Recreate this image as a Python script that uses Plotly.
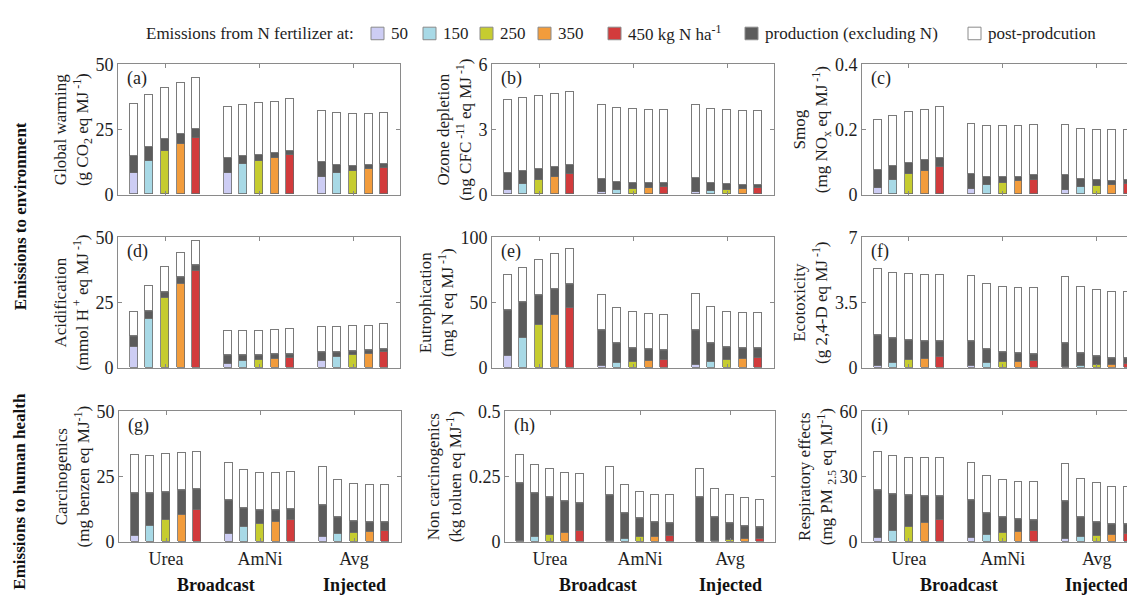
import plotly.graph_objects as go

# ---------------- data ----------------
groups = ["Urea", "AmNi", "Avg"]
rate_names = ["50", "150", "250", "350", "450 kg N ha<sup>-1</sup>"]
rate_colors = ["#cdcdf4", "#a8d9e6", "#c6cc30", "#f29c3c", "#d23b3c"]
prod_color = "#5c5c5c"
prod_name = "production (excluding N)"
post_name = "post-prodcution"
legend_title = "Emissions from N fertilizer at:"
panel_letters = ["(a)", "(b)", "(c)", "(d)", "(e)", "(f)", "(g)", "(h)", "(i)"]
row_labels = ["Emissions to environment", "Emissions to human health"]
method_labels = ["Broadcast", "Injected"]

# order in each list: Urea 50..450, AmNi 50..450, Avg 50..450
gw_n    = [8.1, 12.9, 16.5, 19.2, 21.7, 8.4, 11.5, 13.0, 14.0, 15.1, 6.8, 8.4, 8.9, 9.6, 10.2]
gw_prod = [6.8, 5.3, 4.6, 4.0, 3.4, 5.5, 3.1, 2.3, 1.9, 1.6, 5.6, 2.9, 2.1, 1.6, 1.5]
gw_post = [19.6, 19.8, 19.7, 19.6, 19.6, 19.6, 19.6, 19.6, 19.6, 19.8, 19.6, 19.8, 19.8, 19.6, 19.7]

oz_n    = [0.19, 0.46, 0.65, 0.79, 0.94, 0.12, 0.19, 0.27, 0.31, 0.34, 0.10, 0.18, 0.21, 0.24, 0.28]
oz_prod = [0.79, 0.61, 0.53, 0.47, 0.40, 0.61, 0.38, 0.25, 0.21, 0.18, 0.66, 0.34, 0.25, 0.19, 0.17]
oz_post = [3.38, 3.38, 3.36, 3.37, 3.38, 3.39, 3.39, 3.39, 3.38, 3.38, 3.36, 3.39, 3.41, 3.41, 3.39]

sm_n    = [0.019, 0.043, 0.062, 0.072, 0.084, 0.017, 0.030, 0.035, 0.040, 0.045, 0.013, 0.022, 0.025, 0.028, 0.031]
sm_prod = [0.055, 0.044, 0.035, 0.033, 0.029, 0.045, 0.025, 0.019, 0.015, 0.014, 0.047, 0.026, 0.018, 0.014, 0.014]
sm_post = [0.155, 0.153, 0.155, 0.154, 0.154, 0.154, 0.155, 0.155, 0.154, 0.153, 0.154, 0.153, 0.156, 0.155, 0.154]

ac_n    = [8.1, 19.0, 26.9, 32.4, 37.3, 1.6, 2.9, 3.3, 3.7, 4.1, 2.9, 4.3, 5.0, 5.6, 6.2]
ac_prod = [3.9, 2.8, 2.1, 2.2, 1.8, 3.1, 1.7, 1.4, 1.4, 1.1, 3.1, 1.8, 1.3, 1.1, 1.0]
ac_post = [9.2, 9.5, 9.6, 9.3, 9.3, 9.3, 9.4, 9.4, 9.2, 9.4, 9.5, 9.5, 9.5, 9.3, 9.4]

eu_n    = [9.9, 23.2, 33.6, 40.7, 46.7, 2.0, 4.0, 4.9, 5.7, 6.2, 3.0, 5.2, 6.2, 6.9, 7.9]
eu_prod = [33.8, 26.7, 21.7, 19.1, 17.0, 26.4, 14.8, 10.4, 8.1, 7.4, 26.1, 13.8, 9.6, 7.7, 6.7]
eu_post = [27.2, 26.6, 27.2, 26.9, 26.9, 27.2, 27.1, 26.9, 27.2, 26.9, 27.2, 27.2, 26.9, 26.9, 26.9]

ec_n    = [0.12, 0.31, 0.43, 0.53, 0.60, 0.12, 0.28, 0.33, 0.34, 0.38, 0.07, 0.12, 0.17, 0.19, 0.22]
ec_prod = [1.62, 1.26, 1.05, 0.90, 0.81, 1.28, 0.69, 0.50, 0.42, 0.36, 1.24, 0.66, 0.45, 0.33, 0.28]
ec_post = [3.52, 3.52, 3.54, 3.55, 3.54, 3.53, 3.51, 3.51, 3.52, 3.52, 3.52, 3.53, 3.52, 3.55, 3.53]

ca_n    = [2.6, 6.3, 8.8, 10.6, 12.5, 3.3, 5.8, 7.0, 7.9, 8.8, 2.0, 3.1, 3.6, 4.1, 4.4]
ca_prod = [15.9, 12.1, 10.3, 9.2, 7.7, 12.6, 7.0, 5.0, 4.0, 3.5, 12.0, 6.2, 4.2, 3.2, 2.9]
ca_post = [14.5, 14.4, 14.4, 14.3, 14.2, 14.3, 14.5, 14.4, 14.3, 14.2, 14.4, 14.4, 14.3, 14.2, 14.2]

nc_n    = [0.005, 0.021, 0.028, 0.036, 0.043, 0.006, 0.015, 0.020, 0.022, 0.026, 0.002, 0.007, 0.011, 0.012, 0.015]
nc_prod = [0.221, 0.165, 0.141, 0.121, 0.105, 0.171, 0.095, 0.069, 0.053, 0.044, 0.167, 0.088, 0.058, 0.046, 0.039]
nc_post = [0.106, 0.108, 0.108, 0.107, 0.109, 0.107, 0.105, 0.102, 0.105, 0.107, 0.108, 0.107, 0.108, 0.107, 0.106]

re_n    = [2.1, 5.3, 7.1, 8.9, 10.2, 2.1, 3.4, 4.3, 4.6, 5.2, 1.6, 2.7, 3.0, 3.3, 3.7]
re_prod = [21.8, 16.6, 14.2, 12.0, 10.7, 16.9, 9.6, 6.8, 5.6, 4.9, 16.9, 8.7, 6.0, 4.7, 4.2]
re_post = [17.3, 17.2, 17.2, 17.3, 17.3, 17.1, 17.2, 17.2, 17.2, 17.2, 17.2, 17.2, 17.7, 17.2, 17.0]

y_titles = [
    "Global warming<br>(g CO<sub>2</sub> eq MJ<sup> -1</sup>)",
    "Ozone depletion<br>(ng CFC<sup> -11</sup> eq MJ<sup> -1</sup>)",
    "Smog<br>(mg NO<sub>x</sub> eq MJ<sup> -1</sup>)",
    "Acidification<br>(mmol H<sup> +</sup> eq MJ<sup> -1</sup>)",
    "Eutrophication<br>(mg N eq MJ<sup> -1</sup>)",
    "Ecotoxicity<br>(g 2,4-D eq MJ<sup> -1</sup>)",
    "Carcinogenics<br>(mg benzen eq MJ<sup>-1</sup>)",
    "Non carcinogenics<br>(kg toluen eq MJ<sup>-1</sup>)",
    "Respiratory effects<br>(mg PM <sub>2.5</sub> eq MJ<sup>-1</sup>)",
]
y_ticks = [[0, 25, 50], [0, 3, 6], [0, 0.2, 0.4],
           [0, 25, 50], [0, 50, 100], [0, 3.5, 7],
           [0, 25, 50], [0, 0.25, 0.5], [0, 30, 60]]
y_ticklabels = [["0", "25", "50"], ["0", "3", "6"], ["0", "0.2", "0.4"],
                ["0", "25", "50"], ["0", "50", "100"], ["0", "3.5", "7"],
                ["0", "25", "50"], ["0", "0.25", "0.5"], ["0", "30", "60"]]

n_series = [gw_n, oz_n, sm_n, ac_n, eu_n, ec_n, ca_n, nc_n, re_n]
prod_series = [gw_prod, oz_prod, sm_prod, ac_prod, eu_prod, ec_prod, ca_prod, nc_prod, re_prod]
post_series = [gw_post, oz_post, sm_post, ac_post, eu_post, ec_post, ca_post, nc_post, re_post]

# ---------------- layout geometry (pixels) ----------------
W, H = 1135, 599
panel_x_px = [(110, 392), (484, 766), (854, 1133),
              (110, 392), (484, 766), (854, 1133),
              (111, 393), (497, 767), (854, 1133)]
panel_x_max = [18, 18, 17.83, 18, 18, 17.83, 18, 18, 17.83]
row_px = [(48, 183), (227, 362), (407, 542)]
n_rates = 5
group_step = 6
x_all = [g * group_step + r + 1 for g in range(len(groups)) for r in range(n_rates)]
group_centers = [g * group_step + 3 for g in range(len(groups))]
method_x = [6.2, 15.0]

font_family = "Liberation Serif"
axis_col = "#8a8a8a"
edge_col = "#6a6a6a"
txt_col = "#1e1e1e"

fig = go.Figure()
layout_axes = {}
annotations = []
shapes = []

for p in range(9):
    r, c = divmod(p, 3)
    idx = p + 1
    xa = "x" if idx == 1 else f"x{idx}"
    ya = "y" if idx == 1 else f"y{idx}"
    xname = "xaxis" if idx == 1 else f"xaxis{idx}"
    yname = "yaxis" if idx == 1 else f"yaxis{idx}"
    nv, pv, qv = n_series[p], prod_series[p], post_series[p]

    for k in range(n_rates):
        xs = [x_all[g * n_rates + k] for g in range(len(groups))]
        ys = [nv[g * n_rates + k] for g in range(len(groups))]
        fig.add_trace(go.Bar(
            x=xs, y=ys, width=0.5, xaxis=xa, yaxis=ya,
            marker=dict(color=rate_colors[k], line=dict(color=edge_col, width=0.8)),
            name=rate_names[k], showlegend=False))
    fig.add_trace(go.Bar(
        x=x_all, y=pv, width=0.5, xaxis=xa, yaxis=ya,
        marker=dict(color=prod_color, line=dict(color=edge_col, width=0.8)),
        name=prod_name, showlegend=False))
    fig.add_trace(go.Bar(
        x=x_all, y=qv, width=0.5, xaxis=xa, yaxis=ya,
        marker=dict(color="white", line=dict(color="#7a7a7a", width=1)),
        name=post_name, showlegend=False))

    x0, x1 = panel_x_px[p]
    yt, yb = row_px[r]
    layout_axes[xname] = dict(
        domain=[x0 / W, x1 / W], anchor=ya, range=[0, panel_x_max[p]],
        tickvals=group_centers, ticktext=groups, showticklabels=(r == 2),
        ticks="inside", ticklen=4, tickcolor=axis_col, mirror="allticks",
        showline=True, linecolor=axis_col, linewidth=1, showgrid=False,
        zeroline=False, tickfont=dict(family=font_family, size=18, color=txt_col))
    layout_axes[yname] = dict(
        domain=[1 - yb / H, 1 - yt / H], anchor=xa,
        range=[0, y_ticks[p][-1]], tickvals=y_ticks[p], ticktext=y_ticklabels[p],
        ticks="inside", ticklen=4, tickcolor=axis_col, mirror="allticks",
        showline=True, linecolor=axis_col, linewidth=1, showgrid=False,
        zeroline=False, tickfont=dict(family=font_family, size=18, color=txt_col),
        title=dict(text=y_titles[p], font=dict(family=font_family, size=17, color=txt_col),
                   standoff=2))
    annotations.append(dict(
        text=panel_letters[p], xref=f"{xa} domain", yref=f"{ya} domain",
        x=0.025, y=0.99, xanchor="left", yanchor="top", showarrow=False,
        font=dict(family=font_family, size=18, color=txt_col)))
    if r == 2:
        for mx, ml in zip(method_x, method_labels):
            annotations.append(dict(text=f"<b>{ml}</b>", xref=xa, yref="paper",
                                    x=mx, y=1 - 587 / H, xanchor="center", yanchor="middle",
                                    showarrow=False,
                                    font=dict(family=font_family, size=18, color="#111")))

# row labels
for lbl, yc in zip(row_labels, [205, 490]):
    annotations.append(dict(text=f"<b>{lbl}</b>", xref="paper", yref="paper",
                            x=12 / W, y=1 - yc / H, xanchor="center", yanchor="middle",
                            textangle=-90, showarrow=False,
                            font=dict(family=font_family, size=17, color="#111")))

# legend (drawn manually to reproduce its compact layout)
leg_y = 16
sq = 13
leg_sq_x = [363, 415, 472, 530, 600, 737, 960]
leg_labels = rate_names + [prod_name, post_name]
leg_colors = rate_colors + [prod_color, "white"]
annotations.append(dict(text=legend_title, xref="paper", yref="paper",
                        x=136 / W, y=1 - leg_y / H, xanchor="left", yanchor="middle",
                        showarrow=False, font=dict(family=font_family, size=17, color=txt_col)))
for sx, lab, col in zip(leg_sq_x, leg_labels, leg_colors):
    shapes.append(dict(type="rect", xref="paper", yref="paper",
                       x0=sx / W, x1=(sx + sq) / W,
                       y0=1 - (leg_y + sq / 2) / H, y1=1 - (leg_y - sq / 2) / H,
                       fillcolor=col, line=dict(color="#8a8a8a", width=1)))
    annotations.append(dict(text=lab, xref="paper", yref="paper",
                            x=(sx + sq + 5) / W, y=1 - leg_y / H,
                            xanchor="left", yanchor="middle", showarrow=False,
                            font=dict(family=font_family, size=17, color=txt_col)))

fig.update_layout(
    width=W, height=H, autosize=False,
    margin=dict(l=0, r=0, t=0, b=0),
    paper_bgcolor="white", plot_bgcolor="white",
    barmode="stack", bargap=0,
    showlegend=False,
    annotations=annotations,
    shapes=shapes,
    **layout_axes,
)

fig.write_html("out.html")
